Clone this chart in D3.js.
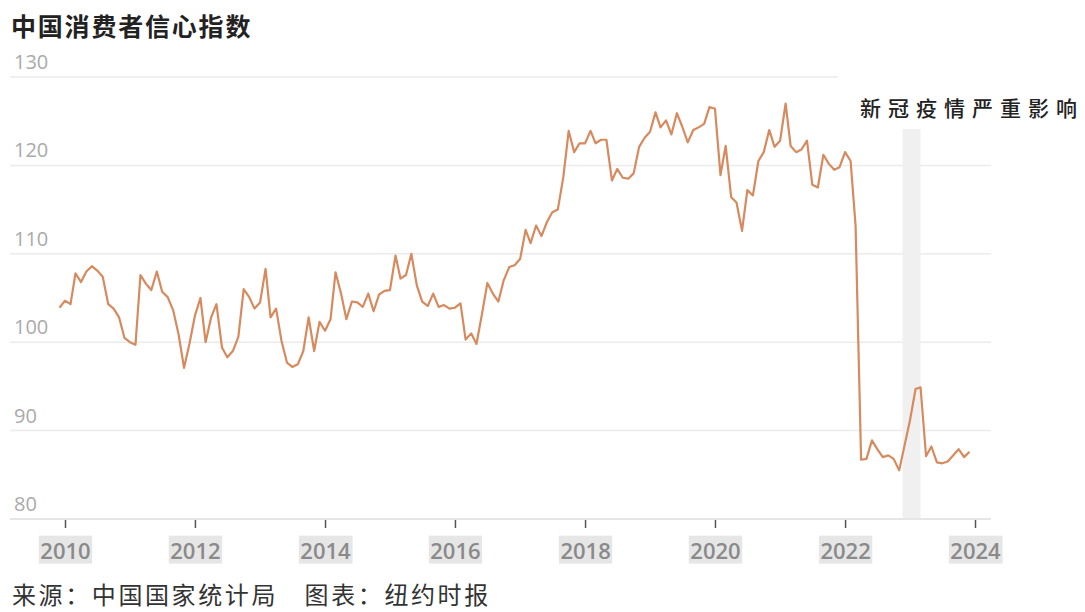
<!DOCTYPE html>
<html>
<head>
<meta charset="utf-8">
<title>中国消费者信心指数</title>
<script src="https://cdn.jsdelivr.net/npm/d3@7"></script>
<style>
  html, body { margin: 0; padding: 0; background: #fff; }
  svg.main { display: block; width: 1085px; height: 612px; }
</style>
</head>
<body>
<svg class="main" width="1085" height="612"></svg>
<script>
// 月度数据，从 2009 年 12 月开始
var startMonth = new Date(2009, 11, 1);
var values = [
  103.9,
  104.7, 104.3, 107.8, 106.8, 108.0, 108.6, 108.1, 107.4, 104.3, 103.8, 102.8, 100.5, // 2010
  100.0, 99.7, 107.6, 106.6, 105.9, 108.0, 105.7, 105.1, 103.6, 100.9, 97.1, 99.8,     // 2011
  103.0, 105.0, 100.0, 102.8, 104.3, 99.4, 98.3, 99.0, 100.6, 106.0, 105.1, 103.8,     // 2012
  104.5, 108.3, 102.8, 103.8, 100.2, 97.7, 97.2, 97.5, 99.0, 102.8, 99.0, 102.3,       // 2013
  101.3, 102.6, 107.9, 105.5, 102.6, 104.6, 104.5, 104.0, 105.5, 103.5, 105.4, 105.8,  // 2014
  105.9, 109.8, 107.2, 107.6, 110.0, 106.4, 104.6, 104.1, 105.5, 104.0, 104.2, 103.8,  // 2015
  103.9, 104.4, 100.3, 101.0, 99.8, 103.2, 106.7, 105.5, 104.6, 107.0, 108.5, 108.7,   // 2016
  109.4, 112.7, 111.2, 113.2, 112.0, 113.6, 114.7, 115.0, 118.7, 123.9, 121.5, 122.5,  // 2017
  122.5, 123.9, 122.5, 122.9, 122.9, 118.3, 119.6, 118.6, 118.5, 119.1, 122.1, 123.1,  // 2018
  123.8, 126.0, 124.3, 125.1, 123.5, 125.9, 124.4, 122.6, 124.0, 124.3, 124.7, 126.6,  // 2019
  126.4, 118.9, 122.2, 116.4, 115.8, 112.6, 117.2, 116.6, 120.5, 121.5, 124.0, 122.1,  // 2020
  122.8, 127.0, 122.2, 121.5, 121.8, 122.8, 117.8, 117.5, 121.2, 120.2, 119.5, 119.8,  // 2021
  121.5, 120.5, 113.2, 86.7, 86.8, 88.9, 87.9, 87.0, 87.2, 86.8, 85.5, 88.3,           // 2022
  91.2, 94.7, 94.9, 87.1, 88.2, 86.4, 86.3, 86.5, 87.2, 87.9, 87.0, 87.6               // 2023
];
var yTicks = [80, 90, 100, 110, 120, 130];
var yearTicks = [2010, 2012, 2014, 2016, 2018, 2020, 2022, 2024];
var band = [new Date(2022, 10, 20), new Date(2023, 2, 1)];
var title = "中国消费者信心指数";
var note = "新冠疫情严重影响";
var source = "来源：中国国家统计局　图表：纽约时报";

var data = values.map(function (v, i) {
  return { date: d3.timeMonth.offset(startMonth, i), value: v };
});

var svg = d3.select("svg");

var x = d3.scaleTime()
  .domain([new Date(2010, 0, 1), new Date(2024, 0, 1)])
  .range([65, 975]);
var y = d3.scaleLinear()
  .domain([80, 130])
  .range([519, 77]);

// 网格线
svg.append("g").selectAll("line")
  .data(yTicks.filter(function (d) { return d > 80; }))
  .enter().append("line")
  .attr("x1", 10)
  .attr("x2", function (d) { return d === 130 ? 838 : 991; })
  .attr("y1", function (d) { return y(d); })
  .attr("y2", function (d) { return y(d); })
  .attr("stroke", "#ebebeb")
  .attr("stroke-width", 1.5);

// 疫情阴影
svg.append("rect")
  .attr("x", x(band[0]))
  .attr("width", x(band[1]) - x(band[0]))
  .attr("y", 129)
  .attr("height", y(80) - 129)
  .attr("fill", "#f0f0f0");

// 底线
svg.append("line")
  .attr("x1", 10).attr("x2", 991)
  .attr("y1", y(80)).attr("y2", y(80))
  .attr("stroke", "#e6e6e6")
  .attr("stroke-width", 2);

// y 轴标签
svg.append("g").selectAll("text")
  .data(yTicks)
  .enter().append("text")
  .attr("x", 14)
  .attr("y", function (d) { return y(d) - 8; })
  .attr("font-family", "'Open Sans', sans-serif")
  .attr("font-size", 20)
  .attr("fill", "#aaa")
  .text(function (d) { return d; });

// x 轴
var xAxis = d3.axisBottom(x)
  .tickValues(yearTicks.map(function (yr) { return new Date(yr, 0, 1); }))
  .tickFormat(d3.timeFormat("%Y"))
  .tickSize(8)
  .tickPadding(15);

var gx = svg.append("g")
  .attr("transform", "translate(0," + (y(80) + 1) + ")")
  .call(xAxis);
gx.select(".domain").remove();
gx.selectAll(".tick line").attr("stroke", "#555").attr("stroke-width", 1.5);
gx.selectAll(".tick text")
  .attr("font-family", "'Open Sans', sans-serif")
  .attr("font-size", 22)
  .attr("font-weight", 600)
  .attr("fill", "#8a8a8a");
gx.selectAll(".tick").each(function () {
  var t = d3.select(this).select("text");
  var b = t.node().getBBox();
  d3.select(this).insert("rect", "text")
    .attr("x", b.x - 1.5)
    .attr("y", b.y + 1)
    .attr("width", b.width + 3)
    .attr("height", b.height - 2)
    .attr("fill", "#e6e6e6");
});

// 折线
var line = d3.line()
  .x(function (d) { return x(d.date); })
  .y(function (d) { return y(d.value); });

svg.append("path")
  .datum(data)
  .attr("fill", "none")
  .attr("stroke", "#d68a5e")
  .attr("stroke-width", 2.2)
  .attr("stroke-linejoin", "round")
  .attr("d", line);

// 文字
svg.append("text")
  .attr("x", 11).attr("y", 36)
  .attr("font-family", "'Noto Sans CJK SC', sans-serif")
  .attr("font-size", 25)
  .attr("font-weight", 700)
  .attr("letter-spacing", 1.8)
  .attr("fill", "#222")
  .text(title);

svg.append("text")
  .attr("x", 860).attr("y", 116)
  .attr("font-family", "'Noto Sans CJK SC', sans-serif")
  .attr("font-size", 21)
  .attr("font-weight", 500)
  .attr("letter-spacing", 7)
  .attr("fill", "#222")
  .text(note);

svg.append("text")
  .attr("x", 12).attr("y", 604)
  .attr("font-family", "'Noto Sans CJK SC', sans-serif")
  .attr("font-size", 24)
  .attr("letter-spacing", 2.6)
  .attr("fill", "#333")
  .text(source);
</script>
</body>
</html>
